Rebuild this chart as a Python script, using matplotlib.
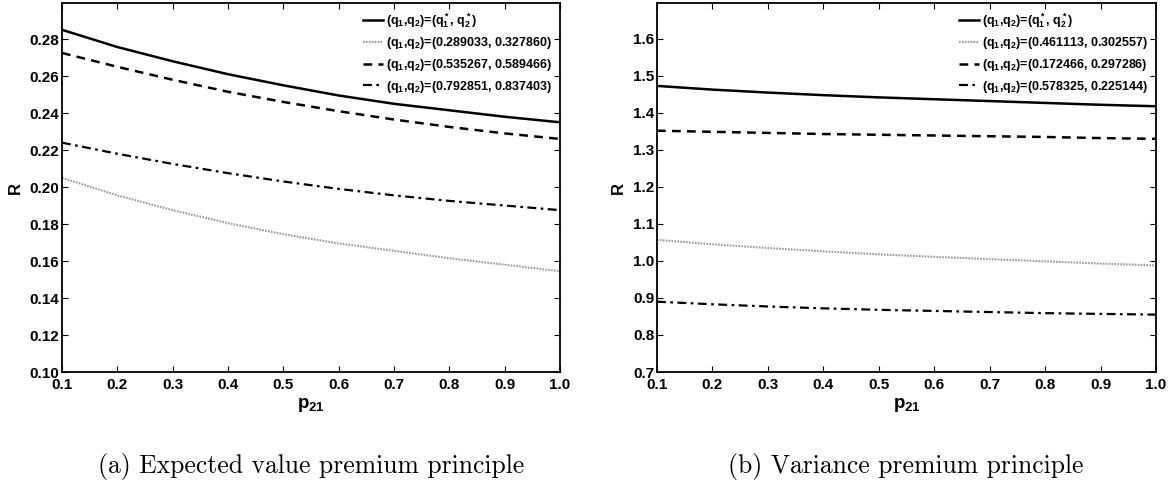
import matplotlib
matplotlib.use("Agg")
import matplotlib.pyplot as plt
import numpy as np

plt.rcParams["font.family"] = ["Liberation Sans", "DejaVu Sans"]
plt.rcParams["font.weight"] = "bold"
plt.rcParams["mathtext.fontset"] = "custom"
plt.rcParams["mathtext.rm"] = "Liberation Sans:bold"
plt.rcParams["mathtext.it"] = "Liberation Sans:bold"
plt.rcParams["mathtext.bf"] = "Liberation Sans:bold"

# x values (p21)
p21 = [0.1, 0.2, 0.3, 0.4, 0.5, 0.6, 0.7, 0.8, 0.9, 1.0]

# (a) expected value premium principle
ev_opt = [0.285, 0.2757, 0.268, 0.261, 0.255, 0.2495, 0.245, 0.2415, 0.238, 0.235]
ev_q1 = [0.205, 0.1955, 0.1875, 0.1805, 0.1745, 0.1695, 0.1655, 0.1615, 0.158, 0.1545]
ev_q2 = [0.2725, 0.265, 0.258, 0.2515, 0.246, 0.241, 0.2365, 0.2325, 0.229, 0.226]
ev_q3 = [0.224, 0.218, 0.2125, 0.2075, 0.203, 0.199, 0.1955, 0.1925, 0.19, 0.1875]
ev_labels = [
    r"(q$_1$,q$_2$)=(q$_1^*$, q$_2^*$)",
    r"(q$_1$,q$_2$)=(0.289033, 0.327860)",
    r"(q$_1$,q$_2$)=(0.535267, 0.589466)",
    r"(q$_1$,q$_2$)=(0.792851, 0.837403)",
]

# (b) variance premium principle
var_opt = [1.473, 1.463, 1.455, 1.448, 1.442, 1.437, 1.432, 1.427, 1.422, 1.418]
var_q1 = [1.057, 1.045, 1.035, 1.026, 1.018, 1.011, 1.005, 0.999, 0.993, 0.988]
var_q2 = [1.352, 1.349, 1.346, 1.343, 1.341, 1.339, 1.337, 1.335, 1.332, 1.330]
var_q3 = [0.890, 0.883, 0.877, 0.872, 0.868, 0.865, 0.862, 0.859, 0.857, 0.855]
var_labels = [
    r"(q$_1$,q$_2$)=(q$_1^*$, q$_2^*$)",
    r"(q$_1$,q$_2$)=(0.461113, 0.302557)",
    r"(q$_1$,q$_2$)=(0.172466, 0.297286)",
    r"(q$_1$,q$_2$)=(0.578325, 0.225144)",
]

styles = [
    dict(color="black", linestyle="-", linewidth=1.8),
    dict(color="#9a9a9a", linestyle=(0, (0.8, 0.6)), linewidth=1.5),
    dict(color="black", linestyle=(0, (3.5, 2.5)), linewidth=1.8),
    dict(color="black", linestyle=(0, (4, 2, 1.2, 2)), linewidth=1.6),
]

fig = plt.figure(figsize=(11.74, 4.87), dpi=100)
ax1 = fig.add_axes([62 / 1174, 1 - 372 / 487, 498 / 1174, 369 / 487])
ax2 = fig.add_axes([657 / 1174, 1 - 372 / 487, 499 / 1174, 369 / 487])


def draw(ax, series, labels, ylim, yticks, yfmt):
    for ys, lab, st in zip(series, labels, styles):
        ax.plot(p21, ys, label=lab, **st)
    ax.set_xlim(0.1, 1.0)
    ax.set_ylim(*ylim)
    ax.set_xticks(p21)
    ax.set_xticklabels(["%.1f" % v for v in p21])
    ax.set_yticks(yticks)
    ax.set_yticklabels([yfmt % v for v in yticks])
    ax.tick_params(direction="in", top=True, right=True, length=4, width=0.8,
                   labelsize=11, colors="black")
    ax.tick_params(axis="x", pad=4)
    ax.tick_params(axis="y", pad=2)
    for lbl in ax.get_xticklabels() + ax.get_yticklabels():
        lbl.set_fontweight("bold")
    for s in ax.spines.values():
        s.set_linewidth(1.3)
    ax.set_xlabel(r"p$_{21}$", fontsize=13.5, fontweight="bold", labelpad=3)
    ax.set_ylabel("R", fontsize=12, fontweight="bold", labelpad=5)
    ax.legend(loc="upper right", frameon=False, handlelength=1.6,
              handletextpad=0.2, labelspacing=0.45, borderaxespad=0.25,
              prop={"weight": "bold", "size": 9})


draw(ax1, [ev_opt, ev_q1, ev_q2, ev_q3], ev_labels, (0.10, 0.2995),
     np.round(np.arange(0.10, 0.281, 0.02), 2), "%.2f")
draw(ax2, [var_opt, var_q1, var_q2, var_q3], var_labels, (0.7, 1.697),
     np.round(np.arange(0.7, 1.61, 0.1), 1), "%.1f")

fig.text(311 / 1174, 1 - 467 / 487, "(a) Expected value premium principle",
         family="cmr10", fontsize=18.5, fontweight="normal", ha="center", va="center")
fig.text(906 / 1174, 1 - 467 / 487, "(b) Variance premium principle",
         family="cmr10", fontsize=18.5, fontweight="normal", ha="center", va="center")

fig.savefig("out.png", dpi=100)
